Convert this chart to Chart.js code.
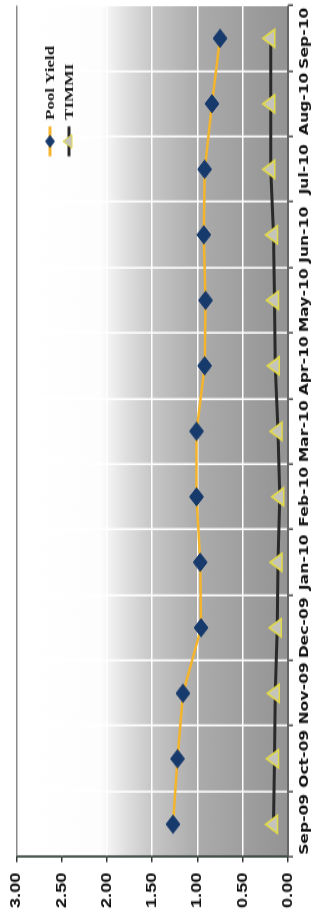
<!DOCTYPE html>
<html>
<head>
<meta charset="utf-8">
<script src="https://cdn.jsdelivr.net/npm/chart.js@4.4.0/dist/chart.umd.min.js"></script>
<style>
  html, body { margin: 0; padding: 0; background: #fff; overflow: hidden; }
  body { width: 312px; height: 924px; position: relative; }
  /* chart is drawn landscape, then turned on its side and stretched like the scan */
  #wrap {
    position: absolute; left: 0; top: 0;
    width: 716px; height: 312px;
    transform-origin: 0 0;
    transform: translate(0, 924px) rotate(-90deg) scaleX(1.3);
  }
  #chart { display: block; }
</style>
</head>
<body>
<div id="wrap"><canvas id="chart" width="716" height="312"></canvas></div>
<script>
// Data
const months = ['Sep-09', 'Oct-09', 'Nov-09', 'Dec-09', 'Jan-10', 'Feb-10', 'Mar-10',
                'Apr-10', 'May-10', 'Jun-10', 'Jul-10', 'Aug-10', 'Sep-10'];
const poolYield = [1.27, 1.22, 1.16, 0.96, 0.97, 1.01, 1.01, 0.92, 0.91, 0.93, 0.92, 0.84, 0.75];
const timmi = [0.16, 0.15, 0.14, 0.12, 0.11, 0.09, 0.11, 0.14, 0.15, 0.16, 0.19, 0.19, 0.19];
const valueMin = 0;
const valueMax = 3;
const valueStep = 0.5;

const valueFont = { family: '"Liberation Sans", Arial, sans-serif', size: 14, weight: 'bold' };
const monthFont = { family: '"DejaVu Sans", sans-serif', size: 12, weight: 'bold' };

// Grey gradient behind the plot (white at the top values, dark at zero)
const plotBackground = {
  id: 'plotBackground',
  beforeDraw(chart) {
    const { ctx, chartArea: a } = chart;
    const g = ctx.createLinearGradient(0, a.top, 0, a.bottom);
    g.addColorStop(0, '#ffffff');
    g.addColorStop(0.31, '#fdfdfd');
    g.addColorStop(0.40, '#e0e0e0');
    g.addColorStop(0.50, '#c6c6c6');
    g.addColorStop(0.67, '#ababab');
    g.addColorStop(1, '#939393');
    ctx.save();
    ctx.fillStyle = g;
    ctx.fillRect(a.left, a.top, a.right - a.left, a.bottom - a.top);
    ctx.restore();
  }
};

// Excel-style legend inside the plot, upper right
const plotLegend = {
  id: 'plotLegend',
  afterDraw(chart) {
    const { ctx, chartArea: a } = chart;
    const x0 = a.right - 116;
    const rows = [50, 69];
    ctx.save();
    chart.data.datasets.forEach((ds, i) => {
      const y = rows[i];
      ctx.strokeStyle = ds.borderColor;
      ctx.lineWidth = 3;
      ctx.beginPath();
      ctx.moveTo(x0, y);
      ctx.lineTo(x0 + 23, y);
      ctx.stroke();

      const cx = x0 + 11.5;
      ctx.fillStyle = ds.pointBackgroundColor;
      ctx.strokeStyle = ds.pointBorderColor;
      ctx.lineWidth = 1;
      ctx.beginPath();
      if (ds.pointStyle === 'rectRot') {
        const r = 4.5;
        ctx.moveTo(cx, y - r);
        ctx.lineTo(cx + r, y);
        ctx.lineTo(cx, y + r);
        ctx.lineTo(cx - r, y);
      } else {
        const r = 6;
        ctx.moveTo(cx, y - r);
        ctx.lineTo(cx + r * 0.866, y + r / 2);
        ctx.lineTo(cx - r * 0.866, y + r / 2);
      }
      ctx.closePath();
      ctx.fill();
      ctx.stroke();

      ctx.fillStyle = '#151515';
      ctx.font = 'bold 13px "Liberation Serif", "Times New Roman", serif';
      ctx.textBaseline = 'middle';
      ctx.textAlign = 'left';
      ctx.fillText(ds.label, x0 + 28, y + 1);
    });
    ctx.restore();
  }
};

new Chart(document.getElementById('chart'), {
  type: 'line',
  data: {
    labels: months,
    datasets: [{
      label: 'Pool Yield',
      data: poolYield,
      borderColor: '#f4b42c',
      borderWidth: 2.5,
      tension: 0,
      pointStyle: 'rectRot',
      pointRadius: 7,
      pointBackgroundColor: '#173a6d',
      pointBorderColor: '#173a6d',
      pointBorderWidth: 1
    }, {
      label: 'TIMMI',
      data: timmi,
      borderColor: '#2a2a2a',
      borderWidth: 3,
      tension: 0,
      pointStyle: 'triangle',
      pointRadius: 8,
      pointBackgroundColor: '#c4c4bc',
      pointBorderColor: '#e2da48',
      pointBorderWidth: 1.5
    }]
  },
  options: {
    responsive: false,
    animation: false,
    layout: { padding: { top: 13, right: 2, left: 0, bottom: 0 } },
    plugins: {
      legend: { display: false },
      tooltip: { enabled: false }
    },
    scales: {
      x: {
        offset: true,
        afterFit(scale) { scale.height = 24; },
        grid: {
          offset: true,
          color: (c) => (c.index === 0 ? '#333333' : '#ffffff'),
          lineWidth: 1.5,
          tickColor: '#555555',
          tickLength: 5
        },
        border: { color: '#666666', width: 1 },
        ticks: {
          autoSkip: false,
          maxRotation: 0,
          padding: 5,
          color: '#111111',
          font: monthFont
        }
      },
      y: {
        min: valueMin,
        max: valueMax,
        afterFit(scale) { scale.width = 51.5; },
        grid: {
          color: (c) => (c.tick && c.tick.value === valueMax ? '#8a8a8a' : (c.tick && c.tick.value === 0 ? '#666666' : '#ffffff')),
          lineWidth: 1.5,
          tickColor: '#333333',
          tickLength: 4
        },
        border: { color: '#3a4a40', width: 1.5 },
        ticks: {
          stepSize: valueStep,
          padding: 8,
          color: '#111111',
          font: valueFont,
          callback: (v) => Number(v).toFixed(2)
        }
      }
    }
  },
  plugins: [plotBackground, plotLegend]
});
</script>
</body>
</html>
